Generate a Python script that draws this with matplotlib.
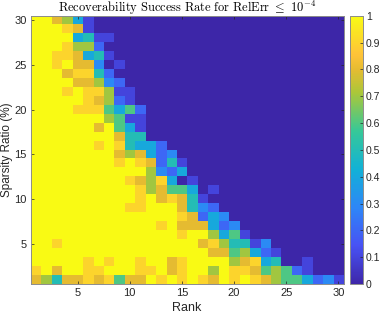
import numpy as np
import matplotlib
matplotlib.use("Agg")
import matplotlib.pyplot as plt
from matplotlib.colors import LinearSegmentedColormap

# success rate per (sparsity ratio, rank); rows listed from 30% (top) down to 1% (bottom)
success_rate = [
    [1, 1, .8, .7, .4, .1, 0, 0, 0, 0, 0, 0, 0, 0, 0, 0, 0, 0, 0, 0, 0, 0, 0, 0, 0, 0, 0, 0, 0, 0],
    [1, 1, 1, .9, .8, .1, 0, 0, 0, 0, 0, 0, 0, 0, 0, 0, 0, 0, 0, 0, 0, 0, 0, 0, 0, 0, 0, 0, 0, 0],
    [1, 1, 1, 1, .4, .5, .1, .1, 0, 0, 0, 0, 0, 0, 0, 0, 0, 0, 0, 0, 0, 0, 0, 0, 0, 0, 0, 0, 0, 0],
    [1, 1, 1, .9, .7, .7, .2, 0, 0, 0, 0, 0, 0, 0, 0, 0, 0, 0, 0, 0, 0, 0, 0, 0, 0, 0, 0, 0, 0, 0],
    [1, 1, .9, .9, .8, .4, .5, .1, 0, 0, 0, 0, 0, 0, 0, 0, 0, 0, 0, 0, 0, 0, 0, 0, 0, 0, 0, 0, 0, 0],
    [1, 1, .9, 1, .8, .8, .3, 0, .1, 0, 0, 0, 0, 0, 0, 0, 0, 0, 0, 0, 0, 0, 0, 0, 0, 0, 0, 0, 0, 0],
    [1, 1, 1, .8, .9, .9, .5, .2, 0, 0, 0, 0, 0, 0, 0, 0, 0, 0, 0, 0, 0, 0, 0, 0, 0, 0, 0, 0, 0, 0],
    [1, 1, 1, 1, .8, .8, .7, .3, .2, 0, 0, 0, 0, 0, 0, 0, 0, 0, 0, 0, 0, 0, 0, 0, 0, 0, 0, 0, 0, 0],
    [1, 1, 1, .9, 1, .9, .9, .7, .1, .1, 0, 0, 0, 0, 0, 0, 0, 0, 0, 0, 0, 0, 0, 0, 0, 0, 0, 0, 0, 0],
    [1, 1, 1, 1, 1, .9, .8, .7, .2, .1, 0, 0, 0, 0, 0, 0, 0, 0, 0, 0, 0, 0, 0, 0, 0, 0, 0, 0, 0, 0],
    [1, 1, 1, 1, .9, .9, .9, .6, .4, .6, .2, 0, 0, 0, 0, 0, 0, 0, 0, 0, 0, 0, 0, 0, 0, 0, 0, 0, 0, 0],
    [1, 1, 1, 1, 1, 1, 1, .7, .6, .1, .1, 0, 0, 0, 0, 0, 0, 0, 0, 0, 0, 0, 0, 0, 0, 0, 0, 0, 0, 0],
    [1, 1, 1, 1, 1, 1, .8, 1, .6, .4, .1, 0, 0, 0, 0, 0, 0, 0, 0, 0, 0, 0, 0, 0, 0, 0, 0, 0, 0, 0],
    [1, 1, 1, 1, 1, 1, 1, 1, .8, .5, .5, 0, 0, 0, 0, 0, 0, 0, 0, 0, 0, 0, 0, 0, 0, 0, 0, 0, 0, 0],
    [1, 1, 1, 1, 1, 1, .9, 1, .9, .5, .4, .4, .2, 0, 0, 0, 0, 0, 0, 0, 0, 0, 0, 0, 0, 0, 0, 0, 0, 0],
    [1, 1, 1, 1, 1, 1, 1, 1, .8, .7, .8, .4, .2, .3, 0, 0, 0, 0, 0, 0, 0, 0, 0, 0, 0, 0, 0, 0, 0, 0],
    [1, 1, 1, 1, 1, 1, 1, 1, .9, 1, .9, .8, .2, .5, .1, 0, 0, 0, 0, 0, 0, 0, 0, 0, 0, 0, 0, 0, 0, 0],
    [1, 1, 1, 1, 1, 1, 1, 1, 1, 1, 1, .7, .3, .2, .4, 0, 0, 0, 0, 0, 0, 0, 0, 0, 0, 0, 0, 0, 0, 0],
    [1, 1, 1, 1, 1, 1, 1, 1, 1, .9, .8, .7, .9, .4, 0, .1, 0, 0, 0, 0, 0, 0, 0, 0, 0, 0, 0, 0, 0, 0],
    [1, 1, 1, 1, 1, 1, 1, 1, 1, 1, .9, .7, .8, .6, .6, .4, 0, .1, 0, 0, 0, 0, 0, 0, 0, 0, 0, 0, 0, 0],
    [1, 1, 1, 1, 1, 1, 1, 1, 1, 1, .9, 1, .8, .9, .8, .5, .1, 0, 0, 0, 0, 0, 0, 0, 0, 0, 0, 0, 0, 0],
    [1, 1, 1, 1, 1, 1, 1, 1, 1, .9, .9, 1, 1, 1, .8, .5, .3, .2, 0, 0, 0, 0, 0, 0, 0, 0, 0, 0, 0, 0],
    [1, 1, 1, 1, 1, 1, 1, 1, 1, 1, 1, 1, 1, 1, .9, .8, .2, .4, .3, 0, 0, 0, 0, 0, 0, 0, 0, 0, 0, 0],
    [1, 1, 1, 1, 1, 1, 1, 1, 1, 1, 1, 1, .9, 1, .8, .8, .8, .4, .2, .3, 0, 0, 0, 0, 0, 0, 0, 0, 0, 0],
    [1, 1, 1, 1, 1, 1, 1, 1, 1, 1, 1, 1, 1, 1, .9, 1, 1, .7, .4, .6, .1, 0, 0, 0, 0, 0, 0, 0, 0, 0],
    [1, 1, .9, 1, 1, 1, 1, 1, 1, 1, 1, 1, 1, 1, 1, 1, .8, .9, .7, .5, .5, .1, .3, 0, 0, 0, 0, 0, 0, 0],
    [1, 1, 1, 1, 1, 1, 1, 1, 1, 1, 1, 1, 1, 1, 1, 1, 1, .8, .8, .6, .7, .4, .2, .1, 0, 0, 0, 0, 0, 0],
    [1, 1, 1, 1, 1, .9, 1, .9, 1, 1, .9, 1, 1, .8, .9, 1, 1, 1, 1, .7, .8, .9, .4, .5, 0, 0, .1, 0, 0, 0],
    [.9, 1, .8, 1, 1, .9, .9, 1, 1, 1, .9, .9, 1, .8, .9, 1, 1, .7, 1, .9, .9, .8, .6, .7, .6, .2, .1, 0, 0, 0],
    [.8, .7, .5, .8, .8, .9, .8, .9, .6, .8, .8, 1, .9, 1, .9, 1, .9, .8, 1, .9, 1, .9, .8, .7, .6, .6, .4, .2, .3, .1],
]
ranks = np.arange(1, 31)
sparsity = np.arange(1, 31)
x_ticks = [5, 10, 15, 20, 25, 30]
y_ticks = [5, 10, 15, 20, 25, 30]
cbar_ticks = [0, 0.1, 0.2, 0.3, 0.4, 0.5, 0.6, 0.7, 0.8, 0.9, 1]
cbar_labels = ['0', '0.1', '0.2', '0.3', '0.4', '0.5', '0.6', '0.7', '0.8', '0.9', '1']

# parula-like colormap
parula = LinearSegmentedColormap.from_list("parula", [
    (0.0, (0.2422, 0.1504, 0.6603)),
    (1 / 7, (0.2810, 0.3228, 0.9579)),
    (2 / 7, (0.1786, 0.5289, 0.9682)),
    (3 / 7, (0.0689, 0.6948, 0.8394)),
    (4 / 7, (0.2161, 0.7843, 0.5923)),
    (5 / 7, (0.6720, 0.7793, 0.2227)),
    (0.8, (0.9000, 0.7350, 0.1950)),
    (6 / 7, (0.9970, 0.7659, 0.2199)),
    (1.0, (0.9769, 0.9839, 0.0805)),
], N=256)

plt.rcParams['font.family'] = ['Liberation Sans', 'DejaVu Sans']
plt.rcParams['mathtext.fontset'] = 'cm'

Z = np.array(success_rate)[::-1]

fig = plt.figure(figsize=(3.81, 3.14), dpi=100)
ax = fig.add_axes([0.0806, 0.0955, 0.821, 0.8545])
im = ax.imshow(Z, cmap=parula, vmin=0, vmax=1, origin='lower', aspect='auto',
               interpolation='nearest',
               extent=(ranks[0] - 0.5, ranks[-1] + 0.5,
                       sparsity[0] - 0.5, sparsity[-1] + 0.5))

ax.set_xticks(x_ticks)
ax.set_yticks(y_ticks)
ax.tick_params(direction='in', length=2.5, width=0.5, labelsize=8,
               colors='0.15', top=True, right=True, pad=3)
for s in ax.spines.values():
    s.set_color('0.55')
    s.set_linewidth(0.7)
ax.set_xlabel('Rank', fontsize=9, color='0.15', labelpad=2.5)
ax.set_ylabel('Sparsity Ratio (%)', fontsize=8.5, color='0.15', labelpad=1)
ax.set_title(r'$\mathrm{Recoverability\ Success\ Rate\ for\ RelErr}\ \leq\ 10^{-4}$',
             fontsize=9, pad=3)

cax = fig.add_axes([0.9186, 0.0955, 0.035, 0.8545])
cb = fig.colorbar(im, cax=cax, ticks=cbar_ticks)
cb.ax.set_yticklabels(cbar_labels)
cb.ax.tick_params(direction='in', length=2, width=0.5, labelsize=7.5, colors='0.15', pad=2)
cb.outline.set_edgecolor('0.55')
cb.outline.set_linewidth(0.7)

fig.savefig('out.png', dpi=100)
